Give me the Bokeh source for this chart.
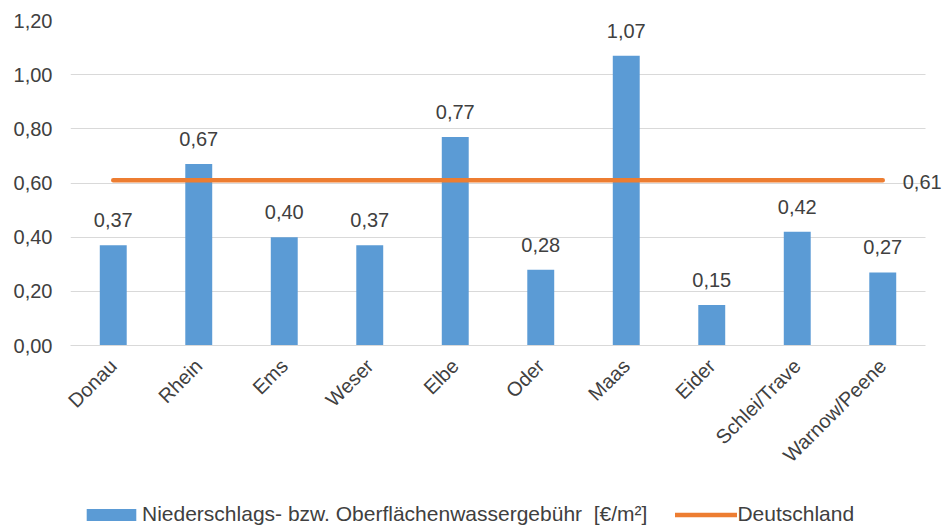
import math
from bokeh.plotting import figure
from bokeh.layouts import column
from bokeh.models import (Range1d, FixedTicker, Legend, LegendItem)
from bokeh.core.properties import value
from bokeh.embed import file_html
from bokeh.resources import INLINE

categories = ["Donau", "Rhein", "Ems", "Weser", "Elbe", "Oder", "Maas", "Eider",
              "Schlei/Trave", "Warnow/Peene"]
gebuehr = [0.37, 0.67, 0.40, 0.37, 0.77, 0.28, 1.07, 0.15, 0.42, 0.27]
deutschland = [0.61, 0.61, 0.61, 0.61, 0.61, 0.61, 0.61, 0.61, 0.61, 0.61]
y_ticks = [0.0, 0.2, 0.4, 0.6, 0.8, 1.0, 1.2]
y_tick_labels = ["0,00", "0,20", "0,40", "0,60", "0,80", "1,00", "1,20"]
bar_series_name = "Niederschlags- bzw. Oberflächenwassergebühr  [€/m²]"
line_series_name = "Deutschland"

FONT = "Liberation Sans"
FS = "20px"
TXT = "#404040"
BAR = "#5B9BD5"
LINE = "#ED7D31"
GRID = "#D9D9D9"

pos = list(range(len(categories)))
bar_labels = [f"{v:.2f}".replace(".", ",") for v in gebuehr]
line_label = [f"{deutschland[-1]:.2f}".replace(".", ",")]

# ---------------- main chart ----------------
x_end = len(categories) - 0.5 + 21 / 85.5   # room right of the categories for "0,61"
p = figure(width=946, height=490, output_backend="svg", toolbar_location=None,
           x_range=Range1d(-0.5, x_end), y_range=Range1d(0, 1.2),
           min_border_left=70, min_border_right=0, min_border_top=20,
           min_border_bottom=145)
p.outline_line_color = None
p.background_fill_color = "white"

bars = p.vbar(x=pos, top=gebuehr, width=0.315, color=BAR, line_color=None)
ln = p.line(x=pos, y=deutschland, line_width=4.5, line_color=LINE, line_cap="round")

p.text(x=pos, y=gebuehr, text=bar_labels, text_align="center",
       text_baseline="middle", y_offset=-25, text_color=TXT,
       text_font=value(FONT), text_font_size=FS)
p.text(x=[pos[-1]], y=[deutschland[-1]], text=line_label, text_align="left",
       text_baseline="middle", x_offset=20, y_offset=2, text_color=TXT,
       text_font=value(FONT), text_font_size=FS)

p.yaxis.ticker = FixedTicker(ticks=y_ticks)
p.yaxis.major_label_overrides = dict(zip(y_ticks, y_tick_labels))
p.yaxis.axis_line_color = None
p.yaxis.major_tick_line_color = None
p.yaxis.minor_tick_line_color = None
p.yaxis.major_tick_out = 0
p.yaxis.major_tick_in = 0
p.yaxis.major_label_standoff = 18

p.xaxis.ticker = FixedTicker(ticks=pos)
p.xaxis.major_label_overrides = dict(zip(pos, categories))
p.xaxis.bounds = (-0.5, len(categories) - 0.5)
p.xaxis.axis_line_color = GRID
p.xaxis.major_tick_line_color = None
p.xaxis.minor_tick_line_color = None
p.xaxis.major_tick_out = 0
p.xaxis.major_tick_in = 0
p.xaxis.major_label_orientation = math.pi / 4
p.xaxis.major_label_standoff = 17
for ax in (p.xaxis[0], p.yaxis[0]):
    ax.major_label_text_font = FONT
    ax.major_label_text_font_size = FS
    ax.major_label_text_color = TXT

p.xgrid.grid_line_color = None
p.ygrid.grid_line_color = GRID
p.ygrid.grid_line_width = 1
p.ygrid.cross_bounds = (-0.5, len(categories) - 0.5)

# ---------------- legend strip ----------------
# (the strip's frame is aligned with the main frame, i.e. starts at x=70)
lf = figure(width=946, height=40, output_backend="svg", toolbar_location=None,
            x_range=Range1d(0, 1), y_range=Range1d(0, 1),
            x_axis_location=None, y_axis_location=None, min_border=0)
lf.grid.visible = False
lf.outline_line_color = None
lb = lf.vbar(x=pos, top=gebuehr, width=0.315, color=BAR, line_color=None,
             visible=False)
ll = lf.line(x=pos, y=deutschland, line_width=4.5, line_color=LINE,
             line_cap="round", visible=False)
leg = Legend(items=[LegendItem(label=bar_series_name, renderers=[lb]),
                    LegendItem(label=line_series_name, renderers=[ll])],
             location=(10, 4), orientation="horizontal", padding=0, margin=0,
             spacing=28, border_line_color=None, background_fill_alpha=0,
             label_text_font=FONT, label_text_font_size="21px", label_text_color=TXT,
             glyph_width=62, glyph_height=15, label_height=15, label_standoff=0)
lf.add_layout(leg)

layout = column(p, lf, spacing=0)
open("out.html", "w").write(file_html(layout, INLINE))
